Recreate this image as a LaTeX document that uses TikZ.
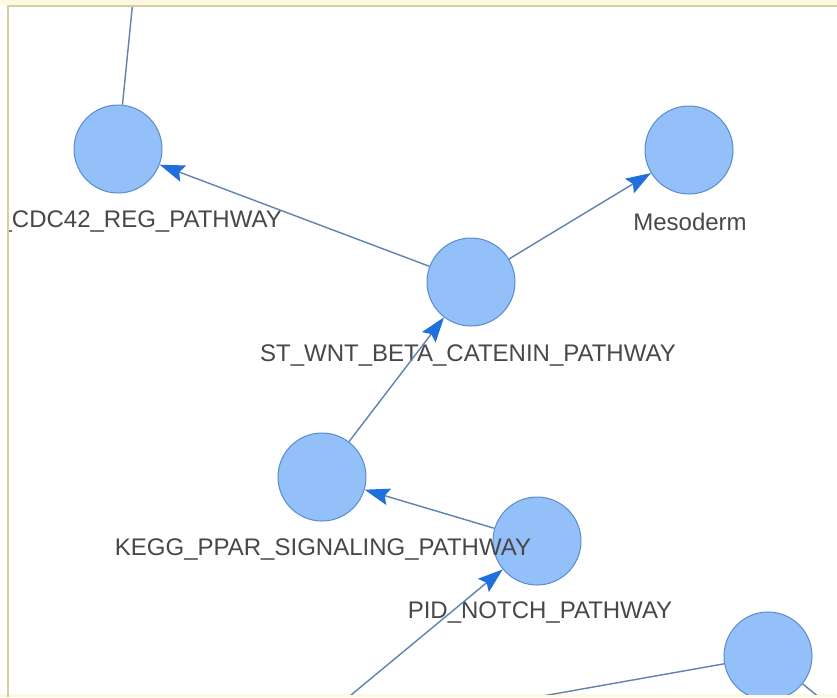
\documentclass[tikz,border=0pt]{standalone}
\usepackage{fontspec}
\setmainfont{Liberation Sans}
\usetikzlibrary{arrows.meta,positioning}

\definecolor{nodefill}{RGB}{147,192,248}
\definecolor{nodeline}{RGB}{90,140,204}
\definecolor{edgeline}{RGB}{95,130,175}
\definecolor{tipblue}{RGB}{31,111,220}
\definecolor{framecol}{RGB}{214,206,165}
\definecolor{bandcol}{RGB}{253,248,222}
\definecolor{txtcol}{RGB}{72,72,72}

\tikzset{
	pw/.style={circle, fill=nodefill, draw=nodeline, line width=1pt, minimum size=88pt, inner sep=0pt},
	lbl/.style={text=txtcol, font=\fontsize{24}{28}\selectfont, inner sep=0pt},
	link/.style={draw=edgeline, line width=1.4pt},
	arr/.style={link, -{Stealth[length=25pt, width=17pt, inset=4pt, fill=tipblue, color=tipblue]}}
}

\begin{document}
\begin{tikzpicture}[x=1pt, y=-1pt]
	\useasboundingbox (0,0) rectangle (837,697);
	\fill[white] (0,0) rectangle (837,697);
	\fill[bandcol] (0,694) rectangle (837,697);
	\fill[bandcol] (0,0) rectangle (837,5);
	\draw[framecol, line width=2pt] (8,697) -- (8,6) -- (837,6);

	\begin{scope}
	\clip (9,7) rectangle (837,694);
	% nodes
	\node[pw] (cdc) at (118,149) {};
	\node[pw] (meso) at (689,150) {};
	\node[pw] (wnt) at (471,282) {};
	\node[pw] (ppar) at (322,477) {};
	\node[pw] (notch) at (537,541) {};
	\node[pw] (lowr) at (768,656) {};
	\coordinate (topend) at (133,0);
	\coordinate (botend) at (345,700);
	\coordinate (lowend) at (520,700);
	\coordinate (rightend) at (830,706);

	% labels
	\node[lbl, anchor=east] (cdclbl) at (282,221) {\_CDC42\_REG\_PATHWAY};
	\node[lbl] (mesolbl) at (690,222) {Mesoderm};
	\node[lbl] (wntlbl) at (468,355) {ST\_WNT\_BETA\_CATENIN\_PATHWAY};
	\node[lbl] (pparlbl) at (323,549) {KEGG\_PPAR\_SIGNALING\_PATHWAY};
	\node[lbl] (notchlbl) at (540,612) {PID\_NOTCH\_PATHWAY};

	% edges
	\draw[link] (cdc) -- (topend);
	\draw[arr] (wnt) -- (cdc);
	\draw[arr] (wnt) -- (meso);
	\draw[arr] (ppar) -- (wnt);
	\draw[arr] (notch) -- (ppar);
	\draw[arr] (botend) -- (notch);
	\draw[link] (lowend) -- (lowr);
	\draw[link] (lowr) -- (rightend);
	\end{scope}
\end{tikzpicture}
\end{document}
